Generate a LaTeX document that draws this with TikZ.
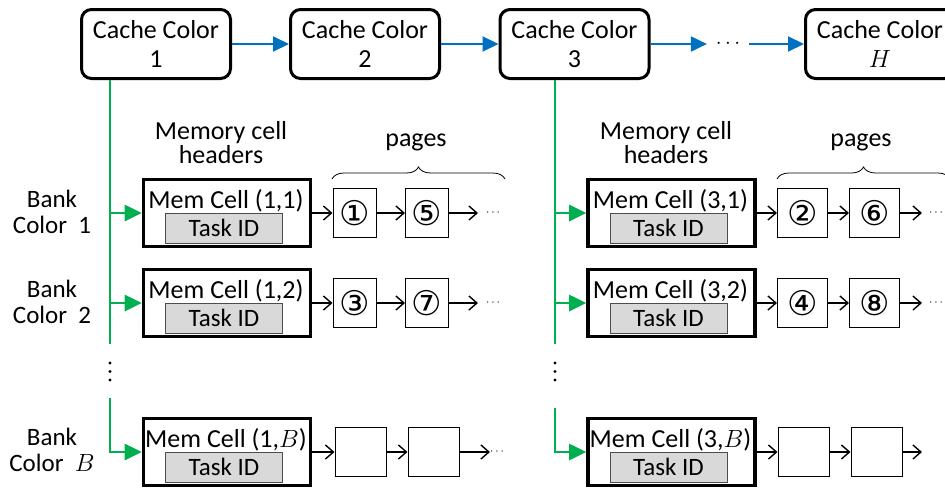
\documentclass[tikz,border=0pt]{standalone}
\usepackage{fontspec}
\setmainfont{Carlito}
\newfontfamily\circfont{DejaVu Sans}
\usetikzlibrary{arrows.meta,decorations.pathreplacing}
\definecolor{cacheblue}{RGB}{0,112,192}
\definecolor{bankgreen}{RGB}{0,176,80}
\definecolor{idgrey}{RGB}{217,217,217}

\begin{document}
\begin{tikzpicture}[x=1pt,y=-1pt,
    every node/.style={font=\fontsize{26}{29}\selectfont,inner sep=0pt},
    cachebox/.style={draw,line width=3pt,rounded corners=10pt,minimum width=149pt,minimum height=69pt,align=center},
    cellbox/.style={draw,line width=3.6pt,minimum width=167pt,minimum height=67pt},
    idbox/.style={draw=black!70,fill=idgrey,line width=1pt,minimum width=117pt,minimum height=30pt},
    pagebox/.style={draw,line width=1pt,minimum height=49pt,font=\circfont\fontsize{34}{34}\selectfont},
    blk/.style={-{Straight Barb[length=8pt,width=14pt]},line width=1.4pt},
    blu/.style={cacheblue,line width=2pt,-{Triangle[length=16pt,width=15pt]}},
    grn/.style={bankgreen,line width=2.8pt},
    grnarr/.style={grn,-{Triangle[length=17pt,width=16pt]}}]
  \useasboundingbox (0,0) rectangle (945,488);
  % cache colours
  \foreach \n/\xx/\lab in {1/156/1,2/365/2,3/574.5/3,H/880/{$H$}}{
    \node[cachebox] (cc\n) at (\xx,44) {Cache Color\\\lab};
  }
  \node[font=\fontsize{20}{24}\selectfont,outer sep=9pt] (ccdots) at (728,44) {$\cdots$};
  \draw[blu] (cc1) -- (cc2);
  \draw[blu] (cc2) -- (cc3);
  \draw[blu] (cc3) -- (ccdots);
  \draw[blu] (ccdots) -- (ccH);
  % bank colours
  \foreach \r/\rl/\y in {1/1/212,2/2/302,B/{$B$}/450}{
    \node[align=center,font=\fontsize{25}{26}\selectfont] (bk\r) at (52,\y) {Bank\\Color~~\rl};
  }
  % one column of cells per cache colour
  \foreach \g/\dx/\gy in {1/0/398,3/445/408}{
    \node[align=center,font=\fontsize{26}{24}\selectfont] (hd\g) at (221+\dx,143) {Memory cell\\headers};
    \node[anchor=base] (pg\g) at (416+\dx,146) {pages};
    \draw[decorate,decoration={brace,amplitude=12pt},line width=0.8pt] (332+\dx,179) -- (505+\dx,179);
    \coordinate (gt\g) at (110+\dx,344);
    \coordinate (gb\g) at (110+\dx,\gy);
    \draw[grn] (cc\g.south -| gt\g) -- (gt\g);
    \foreach \yy in {363,371.5,380} \fill (110+\dx,\yy) circle (1.7);
  }
  \foreach \g/\r/\rl/\xc/\y/\pa/\pb/\xa/\xb/\w/\xe in {
      1/1/1/227/213/①/⑤/354.5/427/43/478,
      1/2/2/227/303/③/⑦/354.5/427/43/478,
      1/B/{$B$}/227/452/{}/{}/360.5/433.5/51/490,
      3/1/1/671.5/213/②/⑥/802.5/874.5/50/922,
      3/2/2/671.5/303/④/⑧/802.5/874.5/50/922,
      3/B/{$B$}/671.5/452/{}/{}/803.5/876.5/51/922}{
    \node[cellbox] (mc\g\r) at (\xc,\y) {};
    \node[anchor=base] (mt\g\r) at (\xc-1,\y-5) {Mem Cell (\g,\rl)};
    \node[idbox,font=\fontsize{25}{29}\selectfont] (id\g\r) at (\xc-3,\y+15) {Task ID};
    \node[pagebox,minimum width=\w pt] (pa\g\r) at (\xa,\y) {\pa};
    \node[pagebox,minimum width=\w pt] (pb\g\r) at (\xb,\y) {\pb};
    \coordinate (e\g\r) at (\xe,\y);
    \draw[blk] (mc\g\r) -- (pa\g\r);
    \draw[blk] (pa\g\r) -- (pb\g\r);
    \draw[blk] (pb\g\r) -- (e\g\r);
  }
  \foreach \g/\r/\xd/\y in {1/1/493/213,1/2/493/303,1/B/497/452,3/1/936/213,3/2/936/303}{
    \node[font=\fontsize{12}{12}\selectfont] (dt\g\r) at (\xd,\y) {$\cdots$};
  }
  % green links
  \foreach \g in {1,3}{
    \draw[grnarr] (mc\g1.west -| gt\g) -- (mc\g1.west);
    \draw[grnarr] (mc\g2.west -| gt\g) -- (mc\g2.west);
    \draw[grnarr] (gb\g) |- (mc\g B.west);
  }
\end{tikzpicture}
\end{document}
